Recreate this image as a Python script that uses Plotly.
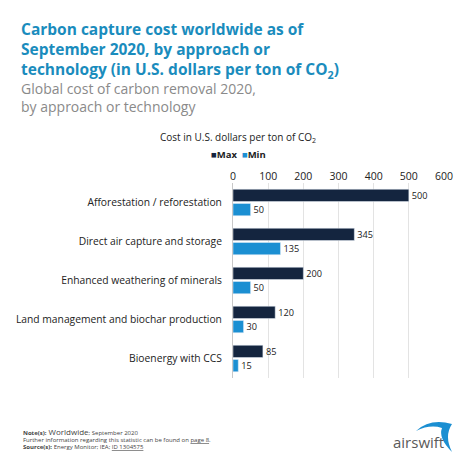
import plotly.graph_objects as go

# data
categories = [
    "Afforestation / reforestation",
    "Direct air capture and storage",
    "Enhanced weathering of minerals",
    "Land management and biochar production",
    "Bioenergy with CCS",
]
max_cost = [500, 345, 200, 120, 85]
min_cost = [50, 135, 50, 30, 15]
x_ticks = [0, 100, 200, 300, 400, 500, 600]

# the page body adds ~8px, so the figure is drawn 8px smaller
OFF = 8
W, H = 474 - OFF, 474 - OFF
# plot area in screenshot pixels: x 233..444, y 183..378
L, T = 233 - OFF, 183 - OFF
R, B = W - (444 - OFF), H - (378 - OFF)
FONT = "Open Sans"
NAVY = "#14253f"
BLUE = "#1b8fd2"
TITLE_BLUE = "#1a8cbd"


def px(x):
    """screenshot pixel x -> paper x"""
    return (x - OFF - L) / (W - L - R)


def py(y):
    """screenshot pixel y (from top) -> paper y"""
    return (H - B - (y - OFF)) / (H - T - B)


fig = go.Figure()
fig.add_trace(go.Bar(
    y=categories, x=max_cost, name="Max", orientation="h",
    marker_color=NAVY, text=max_cost, textposition="outside",
    textfont=dict(size=10.5, color="#1a1a1a", family=FONT), cliponaxis=False,
))
fig.add_trace(go.Bar(
    y=categories, x=min_cost, name="Min", orientation="h",
    marker_color=BLUE, text=min_cost, textposition="outside",
    textfont=dict(size=10.5, color="#1a1a1a", family=FONT), cliponaxis=False,
))

fig.update_layout(
    width=W, height=H,
    margin=dict(l=L, r=R, t=T, b=B, autoexpand=False),
    paper_bgcolor="white", plot_bgcolor="white",
    barmode="group", bargap=0.27, bargroupgap=0.14,
    font=dict(family=FONT, color="#222"),
    showlegend=False,
    xaxis=dict(
        side="top", range=[0, 600], tickvals=x_ticks,
        showgrid=True, gridcolor="#e3e3e3", gridwidth=1,
        zeroline=False, showline=False, ticks="", automargin=False,
        tickfont=dict(size=10.5, color="#222", family=FONT),
    ),
    yaxis=dict(
        autorange="reversed", showline=True, linecolor="#c8c8c8", linewidth=1,
        ticks="", ticklabelstandoff=8, automargin=False,
        tickfont=dict(size=10.3, color="#222", family=FONT),
    ),
)

title_text = ("<b>Carbon capture cost worldwide as of<br>"
              "September 2020, by approach or<br>"
              "technology (in U.S. dollars per ton of CO<sub>2</sub>)</b>")
subtitle_text = "Global cost of carbon removal 2020,<br>by approach or technology"
small = "font-size:6px"
footer_lines = [
    f"<b style='{small}'>Note(s):</b> Worldwide<span style='{small}'>; September 2020</span>",
    "Further information regarding this statistic can be found on <u>page 8</u>.",
    "<b>Source(s):</b> Energy Monitor; IEA; <u>ID 1304575</u>",
]

annotations = [
    dict(x=px(19), y=py(50), xanchor="left", yanchor="middle", align="left",
         text=title_text, font=dict(size=15.5, color=TITLE_BLUE, family=FONT)),
    dict(x=px(19), y=py(97), xanchor="left", yanchor="middle", align="left",
         text=subtitle_text, font=dict(size=14, color="#8a8a8a", family=FONT)),
    dict(x=px(238), y=py(137), xanchor="center", yanchor="middle",
         text="Cost in U.S. dollars per ton of CO<sub>2</sub>",
         font=dict(size=10, color="#222", family=FONT)),
    dict(x=px(238), y=py(154), xanchor="center", yanchor="middle",
         text=f"<span style='color:{NAVY}'>■</span><b>Max</b>  "
              f"<span style='color:{BLUE}'>■</span><b>Min</b>",
         font=dict(size=9.5, color="#222", family=FONT)),
]
for i, (line, y) in enumerate(zip(footer_lines, [431, 440, 447])):
    annotations.append(dict(
        x=px(21), y=py(y), xanchor="left", yanchor="middle", text=line,
        font=dict(size=8 if i == 0 else 6, color="#444", family=FONT)))
annotations.append(dict(
    x=px(418), y=py(442), xanchor="center", yanchor="middle",
    text="airswift", font=dict(size=15, color="#5a5a5a", family=FONT)))
for a in annotations:
    a.update(xref="paper", yref="paper", showarrow=False)
fig.update_layout(annotations=annotations)

# blue swoosh of the logo
fig.add_shape(
    type="path", xref="paper", yref="paper", line=dict(width=0), fillcolor=BLUE,
    path=f"M {px(416)},{py(431)} Q {px(430)},{py(418)} {px(452)},{py(424)} "
         f"Q {px(444)},{py(436)} {px(452)},{py(452)} "
         f"Q {px(438)},{py(438)} {px(442)},{py(428)} "
         f"Q {px(430)},{py(424)} {px(416)},{py(431)} Z",
)

fig.write_html("out.html")
